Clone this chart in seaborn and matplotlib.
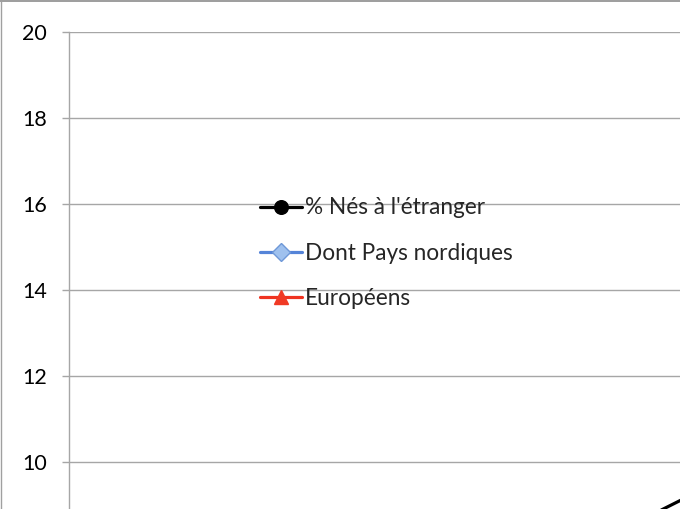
import matplotlib
matplotlib.use("Agg")
import matplotlib.pyplot as plt
import seaborn as sns
import pandas as pd
from matplotlib.lines import Line2D

# --- data ---
annees = [1960, 1970, 1980, 1990, 2000, 2010]
nes_etranger = [4.0, 6.7, 7.5, 9.8, 11.3, 14.3]
pays_nordiques = [2.3, 3.6, 3.9, 3.4, 2.9, 2.6]
europeens = [1.1, 1.6, 1.9, 2.2, 2.6, 3.3]
series_noms = ["% Nés à l'étranger", "Dont Pays nordiques", "Européens"]
y_ticks = [10, 12, 14, 16, 18, 20]

rows = []
for nom, vals in zip(series_noms, [nes_etranger, pays_nordiques, europeens]):
    for a, v in zip(annees, vals):
        rows.append({"annee": a, "valeur": v, "serie": nom})
df = pd.DataFrame(rows)

sns.set_style("white")
plt.rcParams["font.family"] = ["Lato", "DejaVu Sans"]

W, H = 680, 509
fig = plt.figure(figsize=(W / 100, H / 100), dpi=100)

# axes placed in pixel terms (chart is a crop of a larger one)
left_px, top_px = 69, 32
px_per_unit_y = 43.0
px_per_year = 19.7
ymin, ymax = 0, 20
xmin, xmax = 1955.95, 2015
bottom_px = top_px + (ymax - ymin) * px_per_unit_y
width_px = (xmax - xmin) * px_per_year
ax = fig.add_axes([left_px / W, (H - bottom_px) / H, width_px / W, (bottom_px - top_px) / H])

palette = {series_noms[0]: "#000000", series_noms[1]: "#5584d8", series_noms[2]: "#ef3320"}
markers = {series_noms[0]: "o", series_noms[1]: "D", series_noms[2]: "^"}
sns.lineplot(data=df, x="annee", y="valeur", hue="serie", style="serie",
             palette=palette, markers=markers, dashes=False, linewidth=2.3,
             markersize=9, legend=False, ax=ax, sort=False)

face = {series_noms[0]: "#000000", series_noms[1]: "#9fc1ee", series_noms[2]: "#f03a25"}
edge = {series_noms[0]: "#000000", series_noms[1]: "#6e98d8", series_noms[2]: "#f03a25"}
sizes = {series_noms[0]: 9.8, series_noms[1]: 9.3, series_noms[2]: 10.3}
handles = []
for line, nom in zip(ax.lines, series_noms):
    line.set_markerfacecolor(face[nom])
    line.set_markeredgecolor(edge[nom])
    line.set_markersize(sizes[nom])
    line.set_markeredgewidth(1)
    h = Line2D([], [], color=palette[nom], lw=2.3, marker=markers[nom],
               markerfacecolor=face[nom], markeredgecolor=edge[nom],
               markersize=sizes[nom], markeredgewidth=1)
    handles.append(h)

ax.set_xlim(xmin, xmax)
ax.set_ylim(ymin, ymax)
ax.set_yticks(y_ticks)
ax.set_xticks([])
ax.set_xlabel("")
ax.set_ylabel("")
ax.grid(axis="y", color="#a6a6a6", linewidth=1.0)
ax.grid(axis="x", visible=False)
ax.set_axisbelow(True)
for s in ["top", "right", "bottom"]:
    ax.spines[s].set_visible(False)
ax.spines["left"].set_color("#a6a6a6")
ax.spines["left"].set_linewidth(1.0)
ax.tick_params(axis="y", which="major", direction="out", length=5, width=1.0,
               color="#a6a6a6", pad=11, labelsize=15.5, labelcolor="#000000", left=True)

leg = ax.legend(handles=handles, labels=series_noms, loc="upper left",
                bbox_to_anchor=(260 / W, 1 - 197.5 / H), bbox_transform=fig.transFigure,
                frameon=False, fontsize=16.3, handlelength=1.85, handletextpad=0.12,
                labelspacing=1.08, borderpad=0, borderaxespad=0, numpoints=1)

# outer border of the chart area
fig.add_artist(Line2D([0, 1], [1 - 0.5 / H, 1 - 0.5 / H], transform=fig.transFigure,
                      color="#8c8c8c", lw=1.2))
fig.add_artist(Line2D([0.5 / W, 0.5 / W], [0, 1], transform=fig.transFigure,
                      color="#a0a0a0", lw=1.0))

fig.savefig("out.png", dpi=100)
